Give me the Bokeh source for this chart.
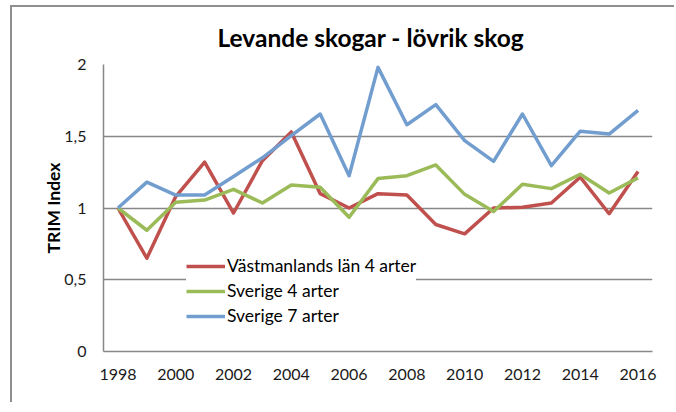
from bokeh.plotting import figure
from bokeh.models import Range1d, FixedTicker, Legend, LegendItem
from bokeh.embed import file_html
from bokeh.resources import INLINE

years = list(range(1998, 2017))
vastmanland_4 = [1.0, 0.65, 1.08, 1.32, 0.965, 1.33, 1.53, 1.10, 1.0, 1.10, 1.09,
                 0.885, 0.82, 1.0, 1.005, 1.035, 1.215, 0.96, 1.255]
sverige_4 = [1.0, 0.845, 1.04, 1.055, 1.13, 1.035, 1.16, 1.145, 0.935, 1.205, 1.225,
             1.30, 1.095, 0.975, 1.165, 1.135, 1.235, 1.105, 1.21]
sverige_7 = [1.0, 1.18, 1.09, 1.09, 1.22, 1.35, 1.505, 1.655, 1.225, 1.98, 1.58,
             1.72, 1.47, 1.325, 1.655, 1.295, 1.535, 1.515, 1.68]
series_names = ["Västmanlands län 4 arter", "Sverige 4 arter", "Sverige 7 arter"]
series_colors = ["#C0504D", "#9BBB59", "#729ECF"]
x_ticks = list(range(1998, 2017, 2))
y_ticks = [0, 0.5, 1, 1.5, 2]
y_tick_labels = {0: "0", 0.5: "0,5", 1: "1", 1.5: "1,5", 2: "2"}

FONT = "Lato"
GRAY = "#878787"

p = figure(width=664, height=397, output_backend="svg", toolbar_location=None,
           x_range=Range1d(1997.5, 2016.5), y_range=Range1d(0, 2),
           min_border_left=91, min_border_right=24, min_border_top=56, min_border_bottom=53,
           title="Levande skogar - lövrik skog")
p.styles = {"margin-left": "10px", "margin-top": "5px",
            "border-left": "2px solid #8f8f8f", "border-top": "2px solid #8f8f8f"}

p.title.align = "left"
p.title.text_font = FONT
p.title.text_font_size = "24.5px"
p.title.text_font_style = "bold"
p.title.text_color = "#000000"
p.title.offset = 114
p.title.standoff = 26

p.outline_line_color = None
p.background_fill_color = "white"
p.border_fill_color = "white"

p.xgrid.grid_line_color = None
p.ygrid.ticker = FixedTicker(ticks=y_ticks)
p.ygrid.grid_line_color = GRAY
p.ygrid.grid_line_width = 1.5

p.xaxis.ticker = FixedTicker(ticks=x_ticks)
p.yaxis.ticker = FixedTicker(ticks=y_ticks)
p.yaxis.major_label_overrides = y_tick_labels
for ax in (p.xaxis, p.yaxis):
    ax.axis_line_color = GRAY
    ax.axis_line_width = 1.5
    ax.major_tick_line_color = None
    ax.minor_tick_line_color = None
    ax.major_label_text_font = FONT
    ax.major_label_text_font_size = "16px"
    ax.major_label_text_color = "#1a1a1a"
p.xaxis.major_label_standoff = 11
p.yaxis.major_label_standoff = 11
p.yaxis.axis_label = "TRIM Index"
p.yaxis.axis_label_text_font = FONT
p.yaxis.axis_label_text_font_size = "17.5px"
p.yaxis.axis_label_text_font_style = "bold"
p.yaxis.axis_label_text_color = "#000000"
p.yaxis.axis_label_standoff = -3

items = []
for name, vals, col in zip(series_names, [vastmanland_4, sverige_4, sverige_7], series_colors):
    r = p.line(years, vals, line_color=col, line_width=3.5, line_join="round")
    items.append(LegendItem(label=name, renderers=[r]))

legend = Legend(items=items, location=(83, 25))
legend.border_line_color = None
legend.background_fill_color = "white"
legend.background_fill_alpha = 1.0
legend.label_text_font = FONT
legend.label_text_font_size = "17.5px"
legend.label_text_color = "#000000"
legend.glyph_width = 39
legend.glyph_height = 20
legend.label_height = 20
legend.label_standoff = 2
legend.spacing = 4
legend.padding = 10
p.add_layout(legend, "center")

open("out.html", "w").write(file_html(p, INLINE))
